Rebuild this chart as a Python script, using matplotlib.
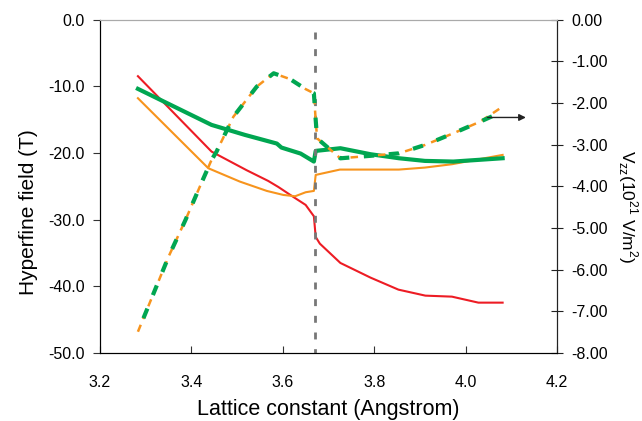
import matplotlib.pyplot as plt
import numpy as np

plt.rcParams['font.family'] = ['Liberation Sans', 'DejaVu Sans']

# hyperfine field (T), left axis
red_x = [3.283, 3.444, 3.521, 3.568, 3.590, 3.623, 3.650, 3.668, 3.672, 3.681, 3.726, 3.792, 3.853, 3.912, 3.970, 4.028, 4.081]
red_y = [-8.5, -19.8, -22.6, -24.2, -25.1, -26.6, -27.8, -29.5, -32.6, -33.6, -36.5, -38.7, -40.5, -41.4, -41.55, -42.45, -42.45]

orange_x = [3.283, 3.437, 3.506, 3.565, 3.601, 3.627, 3.650, 3.668, 3.672, 3.725, 3.854, 3.911, 3.970, 4.081]
orange_y = [-11.8, -22.3, -24.3, -25.7, -26.3, -26.5, -25.9, -25.7, -23.3, -22.5, -22.5, -22.2, -21.7, -20.3]

green_x = [3.283, 3.444, 3.517, 3.587, 3.597, 3.639, 3.668, 3.672, 3.726, 3.792, 3.854, 3.911, 3.973, 4.081]
green_y = [-10.4, -15.8, -17.3, -18.6, -19.2, -20.1, -21.3, -19.7, -19.3, -20.2, -20.8, -21.2, -21.3, -20.8]

# Vzz (10^21 V/m^2), right axis
vzz_x = [3.283, 3.350, 3.387, 3.420, 3.444, 3.455, 3.492, 3.543, 3.580, 3.616, 3.650, 3.668, 3.672, 3.675, 3.726, 3.792, 3.854, 3.911, 3.973, 4.032, 4.081]
vzz_orange = [-7.49, -5.69, -4.81, -3.97, -3.37, -3.17, -2.33, -1.61, -1.29, -1.43, -1.67, -1.77, -2.41, -2.85, -3.33, -3.27, -3.21, -3.01, -2.73, -2.45, -2.09]
vzz_green = [-7.49, -5.69, -4.81, -3.97, -3.37, -3.17, -2.33, -1.61, -1.29, -1.43, -1.67, -1.77, -2.41, -2.85, -3.33, -3.27, -3.21, -3.01, -2.73, -2.45, -2.21]

transition = 3.6705

RED = '#ed1c24'
ORANGE = '#f7941d'
GREEN = '#00a651'

fig, ax = plt.subplots(figsize=(6.42, 4.21), dpi=100)
fig.subplots_adjust(left=100/642, right=557/642, top=1-19.5/421, bottom=1-353/421)

ax.plot(red_x, red_y, color=RED, lw=1.5)
ax.plot(orange_x, orange_y, color=ORANGE, lw=1.5)
ax.plot(green_x, green_y, color=GREEN, lw=3)
ax.plot([transition, transition], [-1.8, -50], color='#777777', lw=2, linestyle=(0, (2.5, 3.5)))

ax.set_xlim(3.2, 4.2)
ax.set_ylim(-50, 0)
ax.set_xticks(np.arange(3.2, 4.21, 0.2))
ax.set_xticklabels(['3.2', '3.4', '3.6', '3.8', '4.0', '4.2'])
ax.set_yticks(np.arange(-50, 1, 10))
ax.set_yticklabels(['%.1f' % v for v in np.arange(-50, 1, 10)])
ax.tick_params(axis='x', direction='in', length=5, labelsize=11.5, pad=16, color='#333333')
ax.tick_params(axis='y', direction='out', length=5, labelsize=11.5, pad=6, color='#333333')
ax.spines['top'].set_color('#aaaaaa')
ax.spines['left'].set_color('#222222')
ax.spines['bottom'].set_color('#222222')
ax.set_xlabel('Lattice constant (Angstrom)', fontsize=15.5)
ax.xaxis.set_label_coords(0.5, -0.137)
ax.set_ylabel('Hyperfine field (T)', fontsize=15)
ax.yaxis.set_label_coords(-0.136, 0.423)

ax2 = ax.twinx()
ax2.plot(vzz_x, vzz_orange, color=ORANGE, lw=1.8, linestyle=(0, (3, 2.5)))
ax2.plot(vzz_x, vzz_green, color=GREEN, lw=3, linestyle=(2.5, (2.5, 3.5)))
ax2.set_ylim(-8, 0)
ax2.set_yticks(np.arange(-8, 0.5, 1))
ax2.set_yticklabels(['%.2f' % v for v in np.arange(-8, 0.5, 1)])
ax2.tick_params(axis='y', direction='inout', length=8, labelsize=11.5, pad=6, color='#222222')
ax2.spines['right'].set_color('#222222')
ax2.spines['top'].set_color('#aaaaaa')
ax2.set_ylabel(r'V$_{\mathregular{zz}}$(10$^{\mathregular{21}}$ V/m$^{\mathregular{2}}$)', fontsize=12.5, rotation=270)
ax2.yaxis.set_label_coords(1.18, 0.439)

ax2.annotate('', xy=(4.138, -2.35), xytext=(4.042, -2.35),
             arrowprops=dict(arrowstyle='-|>', color='#222222', lw=1, mutation_scale=10))

plt.savefig('out.png', dpi=100)
